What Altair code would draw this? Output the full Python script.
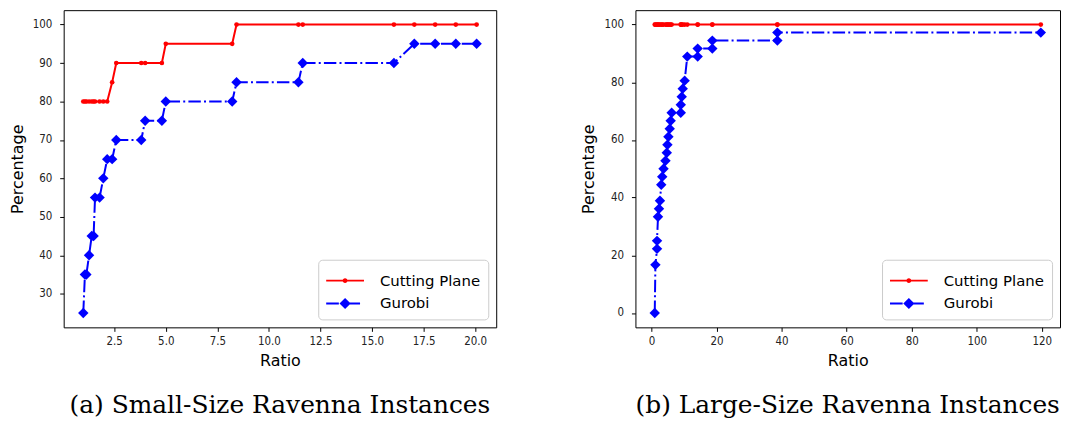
import altair as alt
import pandas as pd

# ---------------- data ----------------
series_names = ["Cutting Plane", "Gurobi"]
series_colors = ["#ff0000", "#0000ff"]

small_ratio = [1.0, 1.08, 1.15, 1.28, 1.41, 1.5, 1.57, 1.79, 1.97, 2.16, 2.4, 2.6,
               3.81, 4.0, 4.81, 5.0, 8.22, 8.43, 11.43, 11.64, 16.06, 17.05, 18.06,
               19.06, 20.07]
small_cutting = [80, 80, 80, 80, 80, 80, 80, 80, 80, 80, 85, 90,
                 90, 90, 90, 95, 95, 100, 100, 100, 100, 100, 100,
                 100, 100]
small_gurobi = [25, 35, 35, 40, 45, 45, 55, 55, 60, 65, 65, 70,
                70, 75, 75, 80, 80, 85, 85, 90, 90, 95, 95,
                95, 95]

large_ratio = [1.0, 1.2, 1.7, 1.7, 2.0, 2.3, 2.6, 3.0, 3.3, 3.7, 4.3, 4.7, 4.9, 5.2,
               5.6, 5.9, 6.2, 9.0, 9.0, 9.3, 9.6, 10.2, 11.0, 14.2, 14.2, 18.7, 18.7,
               38.7, 38.7, 119.7]
large_cutting = [100, 100, 100, 100, 100, 100, 100, 100, 100, 100, 100, 100, 100, 100,
                 100, 100, 100, 100, 100, 100, 100, 100, 100, 100, 100, 100, 100,
                 100, 100, 100]
large_gurobi = [0, 16.67, 22.22, 25.0, 33.33, 36.11, 38.89, 44.44, 47.22, 50.0, 52.78,
                55.56, 58.33, 61.11, 63.89, 66.67, 69.44, 69.44, 72.22, 75.0, 77.78,
                80.56, 88.89, 88.89, 91.67, 91.67, 94.44, 94.44, 97.22, 97.22]

small_x_ticks = [2.5, 5.0, 7.5, 10.0, 12.5, 15.0, 17.5, 20.0]
small_y_ticks = [30, 40, 50, 60, 70, 80, 90, 100]
large_x_ticks = [0, 20, 40, 60, 80, 100, 120]
large_y_ticks = [0, 20, 40, 60, 80, 100]

captions = ["(a) Small-Size Ravenna Instances", "(b) Large-Size Ravenna Instances"]

# legend symbols: line + marker drawn as filled custom paths
RED_SYMBOL = ("M-1,-0.077 L1.923,-0.077 L1.923,0.077 L-1,0.077 Z "
              "M0.654,0 A0.192,0.192 0 1,1 0.269,0 A0.192,0.192 0 1,1 0.654,0 Z")
BLUE_SYMBOL = ("M-1,-0.077 L-0.02,-0.077 L-0.02,0.077 L-1,0.077 Z "
               "M0.62,-0.077 L1.62,-0.077 L1.62,0.077 L0.62,0.077 Z "
               "M0.03,0 L0.4615,-0.43 L0.893,0 L0.4615,0.43 Z")

TICK_FONT = "DejaVu Sans Condensed, Liberation Sans Narrow, DejaVu Sans"
TEXT_FONT = "DejaVu Sans"


def panel(ratio, cp, gu, xdom, ydom, xticks, yticks, xfmt, caption, w, h):
    df = pd.DataFrame({"ratio": ratio, "cp": cp, "gu": gu, "i": list(range(len(ratio)))})
    base = alt.Chart(df)
    x = alt.X("ratio:Q",
              scale=alt.Scale(domain=xdom, nice=False, zero=False),
              axis=alt.Axis(values=xticks, format=xfmt, title="Ratio"))

    def yenc(field):
        return alt.Y(field + ":Q",
                     scale=alt.Scale(domain=ydom, nice=False, zero=False),
                     axis=alt.Axis(values=yticks, format="d", title="Percentage"))

    red_line = base.mark_line(color=series_colors[0], strokeWidth=2).encode(
        x=x, y=yenc("cp"), order="i:Q")
    red_pts = base.mark_circle(color=series_colors[0], size=22, opacity=1).encode(
        x=x, y=yenc("cp"))
    blue_line = base.mark_line(color=series_colors[1], strokeWidth=2,
                               strokeDash=[12.5, 3.2, 2, 3.2]).encode(
        x=x, y=yenc("gu"), order="i:Q")
    blue_pts = base.mark_point(shape="diamond", filled=True, color=series_colors[1],
                               size=110, opacity=1).encode(x=x, y=yenc("gu"))

    leg = alt.Legend(title=None, orient="bottom-right", offset=8, padding=8,
                     fillColor="white", strokeColor="#cccccc", cornerRadius=4,
                     labelFont=TEXT_FONT, labelFontSize=15, labelColor="black",
                     symbolSize=676, symbolStrokeWidth=0, symbolOpacity=1,
                     labelOffset=28, rowPadding=2, labelLimit=300)
    legend_layer = alt.Chart(pd.DataFrame({"series": series_names})).mark_point(
        filled=True, opacity=1).encode(
        color=alt.Color("series:N",
                        scale=alt.Scale(domain=series_names, range=series_colors),
                        legend=leg),
        shape=alt.Shape("series:N",
                        scale=alt.Scale(domain=series_names,
                                        range=[RED_SYMBOL, BLUE_SYMBOL]),
                        legend=leg),
    ).transform_filter("false")

    return alt.layer(red_line, red_pts, blue_line, blue_pts, legend_layer).properties(
        width=w, height=h,
        title=alt.TitleParams(text=caption, orient="bottom", anchor="middle",
                              font="DejaVu Serif", fontSize=25, fontWeight="normal",
                              color="black", offset=25),
    )


left = panel(small_ratio, small_cutting, small_gurobi, [0.05, 21.02], [21.25, 103.75],
             small_x_ticks, small_y_ticks, ".1f", captions[0], 435, 319)
right = panel(large_ratio, large_cutting, large_gurobi, [-4.94, 125.6], [-5, 105],
              large_x_ticks, large_y_ticks, "d", captions[1], 427, 319)

chart = alt.hconcat(left, right, spacing=83).resolve_scale(
    color="independent", shape="independent"
).resolve_legend(color="independent", shape="independent").properties(
    padding={"left": 0, "top": 0, "right": 0, "bottom": 0}
).configure_view(
    stroke="black", strokeWidth=1
).configure_axis(
    grid=False, domain=False, ticks=True, tickColor="black", tickSize=4, tickWidth=1,
    labelFont=TICK_FONT, labelFontSize=11.5, labelColor="#222222", labelPadding=4,
    titleFont=TEXT_FONT, titleFontSize=16, titleFontWeight="normal", titleColor="black",
).configure_axisY(labelPadding=8, titlePadding=7).configure_axisX(titlePadding=6)

chart.save("out.html", embed_options={"renderer": "svg", "actions": False})
